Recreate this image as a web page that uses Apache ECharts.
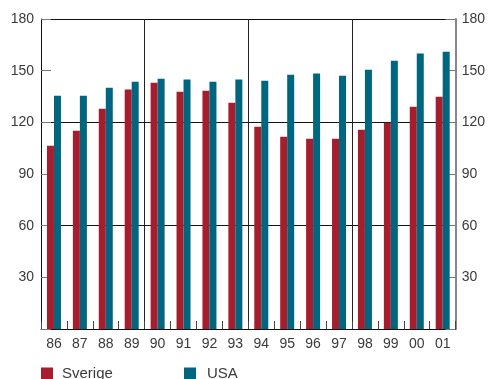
<!DOCTYPE html>
<html>
<head>
<meta charset="utf-8">
<script src="https://cdn.jsdelivr.net/npm/echarts@6/dist/echarts.min.js"></script>
<style>
  html, body { margin: 0; padding: 0; background: #fff; }
  #chart { width: 488px; height: 379px; }
</style>
</head>
<body>
<div id="chart"></div>
<script>
// Years (two-digit labels) and index values per country
const years = ['86','87','88','89','90','91','92','93','94','95','96','97','98','99','00','01'];
const sverige = [106.4, 115.1, 127.9, 139.1, 143.0, 137.8, 138.4, 131.4, 117.5, 111.7, 110.5, 110.5, 115.7, 119.8, 129.1, 134.9];
const usa = [135.5, 135.5, 140.1, 143.6, 145.3, 144.8, 143.6, 144.8, 144.2, 147.7, 148.3, 147.1, 150.6, 155.8, 159.9, 161.0];

const FONT = 'Liberation Sans';
const TEXT = '#3a3a3a';
const RED = '#A61E2E';
const TEAL = '#00657E';

const chart = echarts.init(document.getElementById('chart'), null, { renderer: 'canvas' });

const valueAxisBase = {
  type: 'value', min: 0, max: 180, interval: 30,
  splitLine: { show: false }
};

chart.setOption({
  animation: false,
  textStyle: { fontFamily: FONT },
  grid: { left: 41, right: 31, top: 19, bottom: 50, containLabel: false },
  legend: [
    {
      data: ['Sverige'], left: 41, top: 366, padding: 0,
      icon: 'rect', itemWidth: 12, itemHeight: 12,
      textStyle: { fontFamily: FONT, fontSize: 15, color: TEXT, padding: [0, 0, 0, 4] }
    },
    {
      data: ['USA'], left: 184, top: 366, padding: 0,
      icon: 'rect', itemWidth: 12, itemHeight: 12,
      textStyle: { fontFamily: FONT, fontSize: 15, color: TEXT, padding: [0, 0, 0, 6] }
    }
  ],
  xAxis: {
    type: 'category', data: years, boundaryGap: true,
    axisLine: { lineStyle: { color: '#111', width: 1 } },
    axisTick: { show: true, inside: true, length: 8, interval: 0, lineStyle: { color: '#444' } },
    axisLabel: { fontFamily: FONT, fontSize: 14, color: TEXT, margin: 8, interval: 0 },
    splitLine: {
      show: true,
      interval: function (i) { return i > 0 && i % 4 === 0; },
      lineStyle: { color: '#222', width: 1 }
    }
  },
  yAxis: [
    Object.assign({}, valueAxisBase, {
      position: 'left',
      axisLine: { show: true, lineStyle: { color: '#111', width: 1 } },
      axisTick: { show: true, inside: true, length: 10, lineStyle: { color: '#777' } },
      axisLabel: {
        fontFamily: FONT, fontSize: 14, color: TEXT, margin: 7,
        formatter: v => (v === 0 ? '' : String(v))
      }
    }),
    Object.assign({}, valueAxisBase, {
      position: 'right',
      axisLine: { show: true, lineStyle: { color: '#888', width: 2 } },
      axisTick: { show: true, inside: true, length: 10, lineStyle: { color: '#777' } },
      axisLabel: {
        fontFamily: FONT, fontSize: 14, color: TEXT, margin: 6,
        formatter: v => (v === 0 ? '' : String(v))
      }
    }),
    {
      // reference lines at 60, 120 and the top frame at 180
      type: 'value', min: 0, max: 180, interval: 60, position: 'left',
      axisLine: { show: false }, axisTick: { show: false }, axisLabel: { show: false },
      splitLine: { show: true, lineStyle: { color: '#111', width: 1 } }
    }
  ],
  series: [
    {
      name: 'Sverige', type: 'bar', data: sverige, yAxisIndex: 0,
      barWidth: 7, barGap: '0%',
      itemStyle: { color: RED }
    },
    {
      name: 'USA', type: 'bar', data: usa, yAxisIndex: 0,
      barWidth: 7, barGap: '0%',
      itemStyle: { color: TEAL }
    }
  ]
});
</script>
</body>
</html>
